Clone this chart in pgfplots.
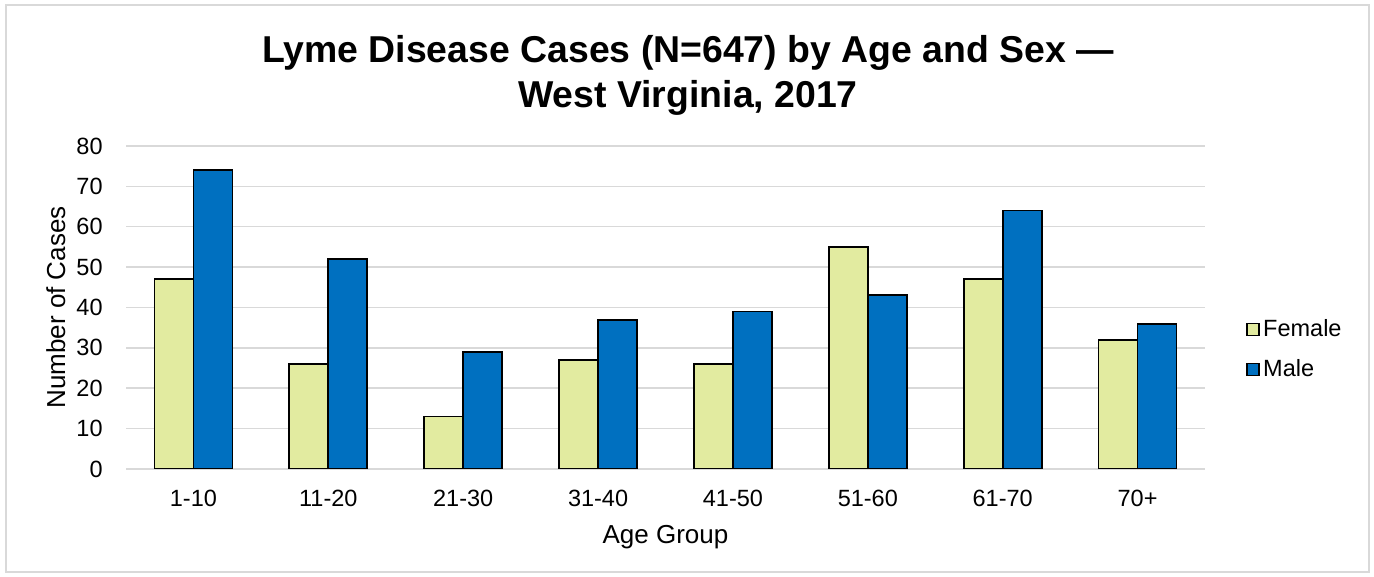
\documentclass[border=0pt]{standalone}
\usepackage{pgfplots}
\pgfplotsset{compat=1.18}
\usepackage{fontspec}
\setmainfont{Liberation Sans}
\definecolor{fem}{HTML}{E2EBA0}
\definecolor{mal}{HTML}{0070C0}
\definecolor{gridc}{HTML}{D9D9D9}
\begin{document}
\begin{tikzpicture}
\useasboundingbox (0,0) rectangle (687pt,288.5pt);
\draw[gridc, line width=1pt] (3pt,2.5pt) rectangle (684.5pt,286pt);
\node[anchor=base, font=\fontsize{18.7}{22}\selectfont\bfseries] at (344pt,257pt) {Lyme Disease Cases (N=647) by Age and Sex —};
\node[anchor=base, font=\fontsize{18.7}{22}\selectfont\bfseries] at (344pt,234.5pt) {West Virginia, 2017};
\begin{axis}[
  at={(63pt,54pt)}, anchor=south west, scale only axis,
  width=539.5pt, height=161.5pt,
  ybar, bar width=19.5pt, ybar=0pt,
  xmin=-0.5, xmax=7.5, ymin=0, ymax=80,
  xtick=data,
  xticklabels={1-10,11-20,21-30,31-40,41-50,51-60,61-70,70+},
  ytick={0,10,...,80},
  ymajorgrids, grid style={gridc, line width=0.75pt},
  axis line style={draw=none},
  major tick length=0pt,
  tick label style={font=\fontsize{11.75}{14}\selectfont},
  /pgf/number format/assume math mode=true,
  yticklabel style={anchor=east, inner sep=0pt, xshift=-11.5pt},
  xticklabel style={anchor=center, inner sep=0pt, yshift=-14.5pt},
  xlabel={Age Group},
  xlabel style={at={(axis description cs:0.5,-0.2322)}, anchor=base, font=\fontsize{13}{15}\selectfont},
  ylabel={Number of Cases},
  ylabel style={at={(axis description cs:-0.0565,0.5)}, anchor=base, font=\fontsize{13}{15}\selectfont},
  legend style={at={(axis description cs:1.038,0.37)}, anchor=west, draw=none, fill=none,
    font=\fontsize{11.75}{14}\selectfont, row sep=7pt, inner sep=0pt, nodes={inner sep=1.5pt}},
  legend cell align=left,
  legend image code/.code={\draw[#1, line width=0.9pt] (0pt,-3pt) rectangle (6pt,3pt);},
]
\addplot[fill=fem, draw=black, line width=0.9pt] coordinates {(0,47) (1,26) (2,13) (3,27) (4,26) (5,55) (6,47) (7,32)};
\addplot[fill=mal, draw=black, line width=0.9pt] coordinates {(0,74) (1,52) (2,29) (3,37) (4,39) (5,43) (6,64) (7,36)};
\legend{Female, Male}
\end{axis}
\end{tikzpicture}
\end{document}
